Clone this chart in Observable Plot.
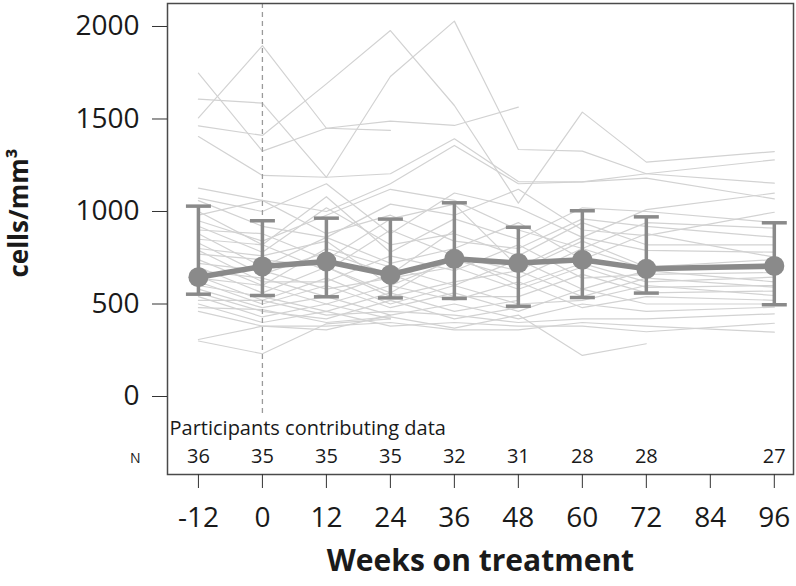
<!DOCTYPE html>
<html><head><meta charset="utf-8">
<script src="https://cdn.jsdelivr.net/npm/d3@7"></script>
<script src="https://cdn.jsdelivr.net/npm/@observablehq/plot@0.6"></script>
<style>
body{margin:0;background:#fff;}
#chart svg{display:block;}
</style></head><body><div id="chart"></div>
<script>
// Weeks on treatment with measurements
const weeks = [-12, 0, 12, 24, 36, 48, 60, 72, 96];
const weekTicks = [-12, 0, 12, 24, 36, 48, 60, 72, 84, 96];
const yTicks = [0, 500, 1000, 1500, 2000];
// Participants contributing data
const nCounts = [36, 35, 35, 35, 32, 31, 28, 28, 27];
// Summary (median with error bars)
const centerValues = [645, 703, 730, 658, 744, 721, 739, 690, 706];
const lowValues = [553, 546, 539, 533, 530, 488, 535, 559, 496];
const highValues = [1029, 950, 964, 959, 1047, 915, 1004, 971, 939];
// Individual participant trajectories (values at each week, null = missing)
const participants = [
  [1506, 1897, 1450, 1488, 1465, 1564, null, null, null],
  [1748, 1326, 1450, 1438, null, null, null, null, null],
  [1607, 1586, 1185, 1730, 2029, 1335, 1326, 1204, 1153],
  [1463, 1411, 1690, 1978, 1573, 1045, 1537, 1267, 1324],
  [1405, 1195, 1185, 1204, 1393, 1162, 1160, 1204, 1279],
  [1126, 1060, 1000, 1150, 1357, 1150, 1160, 1180, 1068],
  [1072, 1000, 1150, 880, 1100, 1020, 860, 1010, 1099],
  [1059, 920, 860, 1040, 980, 1120, 900, 870, 996],
  [1000, 820, 1080, 780, 960, 850, 1020, 1000, 940],
  [980, 1060, 880, 980, 840, 800, 960, 920, 861],
  [950, 840, 980, 1120, 1060, 900, 800, 940, 910],
  [920, 780, 1020, 820, 880, 760, 940, 820, 820],
  [900, 880, 740, 960, 1040, 700, 860, 790, 780],
  [880, 700, 860, 720, 800, 940, 740, 880, 753],
  [850, 820, 680, 900, 760, 680, 840, 700, 740],
  [830, 660, 780, 660, 900, null, null, null, null],
  [800, 760, 840, 600, 740, 640, 800, 690, 690],
  [790, 620, 620, 760, 680, 820, 640, 660, 670],
  [770, 740, 700, 560, 760, 600, 720, 620, 645],
  [740, 600, 800, 700, 600, 740, 580, 680, 620],
  [720, 680, 580, 640, 700, 580, 700, 590, 600],
  [700, 560, 700, 540, 620, 680, 540, 640, 591],
  [680, 640, 540, 660, 540, 540, 660, 560, 570],
  [650, 520, 640, 500, 600, 500, 520, 600, 546],
  [640, 600, 500, 600, 520, 620, 480, 540, 520],
  [620, 500, 600, 480, 560, 460, 580, 500, 500],
  [600, 540, 460, 560, 460, 520, null, null, null],
  [580, 480, 540, 440, 500, 420, 500, 460, 483],
  [560, 460, 420, 520, 420, 480, null, null, null],
  [540, 430, 500, 420, null, null, null, null, null],
  [520, 520, 440, 460, 440, 400, 420, 420, 447],
  [500, 400, 460, 380, 400, 380, 380, 350, 396],
  [480, 470, 400, 430, 370, 440, 222, 285, null],
  [460, 380, 380, 400, 360, 360, 400, 380, 348],
  [308, 380, 360, 440, null, null, null, null, null],
  [300, 231, 393, 420, null, null, null, null, null]
];
const yLabel = "cells/mm³";
const xLabel = "Weeks on treatment";
const nTitle = "Participants contributing data";

const rows = [];
participants.forEach((vals, id) => vals.forEach((v, i) => {
  if (v != null) rows.push({id, week: weeks[i], value: v});
}));
const summary = weeks.map((w, i) => ({week: w, center: centerValues[i], lo: lowValues[i], hi: highValues[i], n: nCounts[i]}));

const capSymbol = {draw(ctx, size) { const r = Math.sqrt(size / Math.PI); ctx.moveTo(-r, 0); ctx.lineTo(r, 0); }};
const grey = "#8a8a8a";
const plain = d => String(d);

const chart = Plot.plot({
  width: 796, height: 586,
  marginLeft: 167, marginRight: 3, marginTop: 3, marginBottom: 112,
  style: {fontFamily: "'Open Sans', sans-serif", background: "#fff", color: "#1a1a1a"},
  x: {domain: [-17.8, 99.6]},
  y: {domain: [-421.6, 2124.3]},
  marks: [
    Plot.line(rows, {x: "week", y: "value", z: "id", stroke: "#d2d2d2", strokeWidth: 1.2}),
    Plot.ruleX([0], {stroke: "#9a9a9a", strokeDasharray: "5,4", strokeWidth: 1.3, insetBottom: 59}),
    Plot.ruleX(summary, {x: "week", y1: "lo", y2: "hi", stroke: grey, strokeWidth: 3.5}),
    Plot.dot(summary, {x: "week", y: "hi", symbol: capSymbol, r: 12.5, stroke: grey, strokeWidth: 3.5, fill: "none"}),
    Plot.dot(summary, {x: "week", y: "lo", symbol: capSymbol, r: 12.5, stroke: grey, strokeWidth: 3.5, fill: "none"}),
    Plot.line(summary, {x: "week", y: "center", stroke: grey, strokeWidth: 5.5}),
    Plot.dot(summary, {x: "week", y: "center", r: 10, fill: grey, stroke: "none"}),
    Plot.frame({stroke: "#4a4a4a", strokeWidth: 1.5}),
    Plot.axisY({ticks: yTicks, tickFormat: plain, tickSize: 15, tickPadding: 13, fontSize: 28, label: null, stroke: "#333"}),
    Plot.axisX({ticks: weekTicks, tickFormat: plain, tickSize: 14, tickPadding: 19, fontSize: 28, label: null, stroke: "#333"}),
    Plot.text(summary, {x: "week", text: d => String(d.n), frameAnchor: "bottom", dy: -11.5, fontSize: 20}),
    Plot.text([nTitle], {text: d => d, frameAnchor: "bottom-left", dx: 2, dy: -39.5, textAnchor: "start", fontSize: 20}),
    Plot.text(["N"], {text: d => d, frameAnchor: "bottom-left", dx: -27, dy: -11.5, textAnchor: "end", fontSize: 14}),
    Plot.text([yLabel], {text: d => d, frameAnchor: "left", textAnchor: "middle", rotate: -90, dx: -147.5, dy: -26, fontSize: 26, fontWeight: "bold"}),
    Plot.text([xLabel], {text: d => d, frameAnchor: "bottom", dy: 96.5, fontSize: 30, fontWeight: "bold"})
  ]
});
document.getElementById("chart").appendChild(chart);
</script>
</body></html>
